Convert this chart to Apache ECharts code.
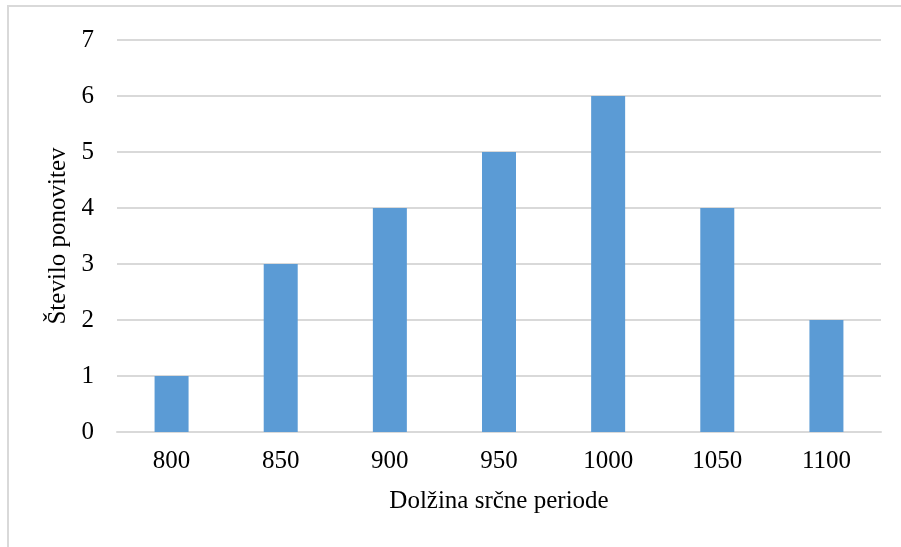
<!DOCTYPE html>
<html>
<head>
<meta charset="utf-8">
<script src="https://cdn.jsdelivr.net/npm/echarts@6/dist/echarts.min.js"></script>
<style>
html,body{margin:0;padding:0;background:#fff;}
#c{width:901px;height:547px;}
</style>
</head>
<body>
<div id="c"></div>
<script>
const categories = ['800','850','900','950','1000','1050','1100'];
const counts = [1, 3, 4, 5, 6, 4, 2];
const yTicks = [0, 1, 2, 3, 4, 5, 6, 7];
const xTitle = 'Dolžina srčne periode';
const yTitle = 'Število ponovitev';

const font = '"Liberation Serif", "Times New Roman", serif';
const chart = echarts.init(document.getElementById('c'), null, {renderer: 'canvas'});
chart.setOption({
  animation: false,
  backgroundColor: '#ffffff',
  graphic: [{
    type: 'rect',
    shape: {x: 8, y: 6, width: 1000, height: 1000},
    style: {fill: 'none', stroke: '#D9D9D9', lineWidth: 2},
    silent: true
  }],
  grid: {left: 117, right: 20, top: 40, bottom: 115},
  xAxis: {
    type: 'category',
    data: categories,
    name: xTitle,
    nameLocation: 'middle',
    nameGap: 57,
    nameTextStyle: {fontFamily: font, fontSize: 25, color: '#000'},
    axisLine: {show: true, lineStyle: {color: '#D9D9D9', width: 2}},
    axisTick: {show: false},
    axisLabel: {fontFamily: font, fontSize: 25, color: '#000', margin: 17}
  },
  yAxis: {
    type: 'value',
    min: yTicks[0],
    max: yTicks[yTicks.length - 1],
    interval: 1,
    name: yTitle,
    nameLocation: 'middle',
    nameGap: 42,
    nameTextStyle: {fontFamily: font, fontSize: 25, color: '#000'},
    axisLine: {show: false},
    axisTick: {show: false},
    axisLabel: {fontFamily: font, fontSize: 25, color: '#000', margin: 23},
    splitLine: {show: true, lineStyle: {color: '#D9D9D9', width: 2}}
  },
  series: [{
    type: 'bar',
    data: counts,
    barWidth: 34,
    itemStyle: {color: '#5B9BD5'}
  }]
});
</script>
</body>
</html>
